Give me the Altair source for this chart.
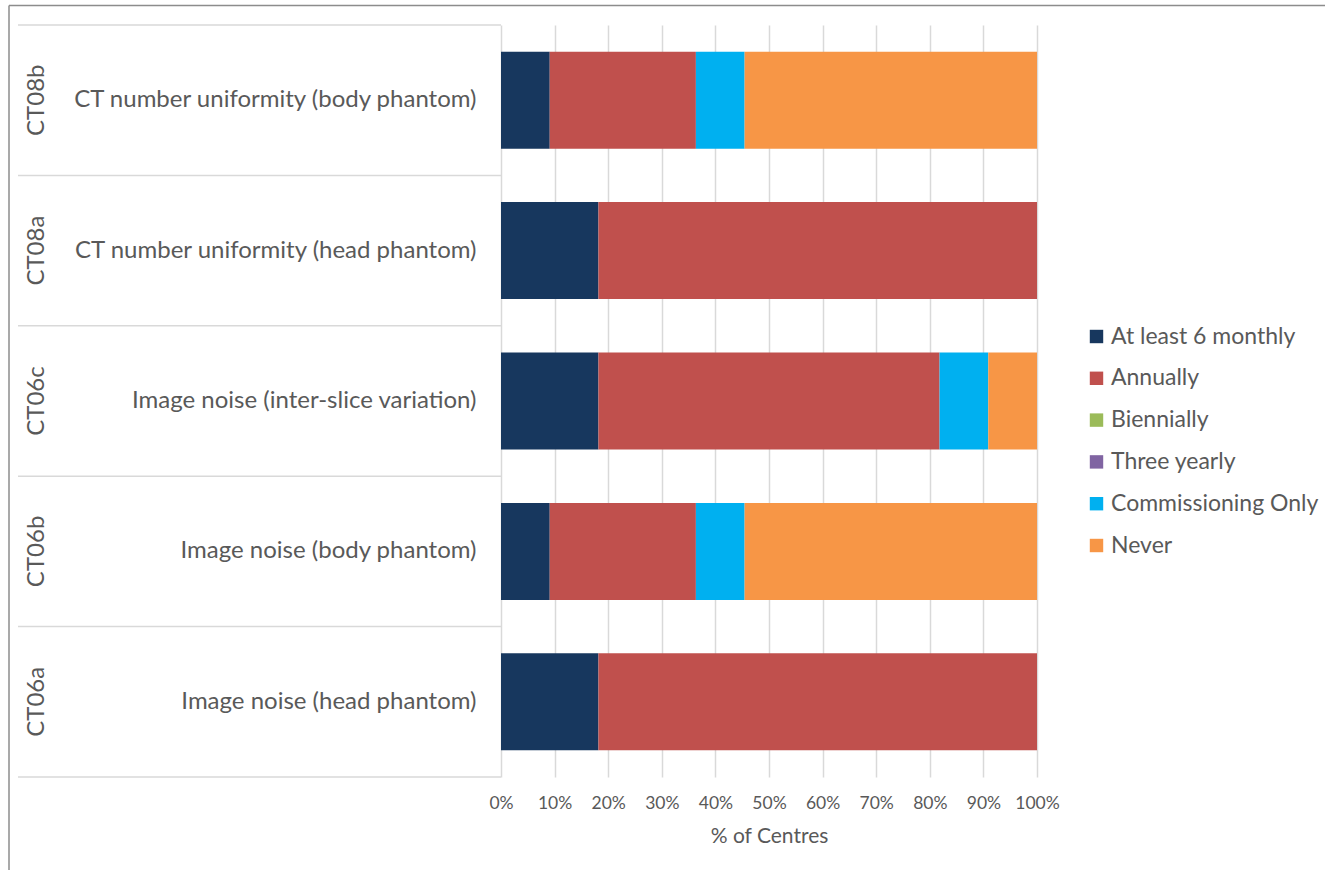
import altair as alt
import pandas as pd

codes = ["CT08b", "CT08a", "CT06c", "CT06b", "CT06a"]
descs = [
    "CT number uniformity (body phantom)",
    "CT number uniformity (head phantom)",
    "Image noise (inter-slice variation)",
    "Image noise (body phantom)",
    "Image noise (head phantom)",
]
categories = ["At least 6 monthly", "Annually", "Biennially", "Three yearly",
              "Commissioning Only", "Never"]
colors = ["#17375E", "#C0504D", "#9BBB59", "#8064A2", "#00B0F0", "#F79646"]

six_monthly = [9.09, 18.18, 18.18, 9.09, 18.18]
annually = [27.27, 81.82, 63.64, 27.27, 81.82]
biennially = [0, 0, 0, 0, 0]
three_yearly = [0, 0, 0, 0, 0]
commissioning = [9.09, 0, 9.09, 9.09, 0]
never = [54.55, 0, 9.09, 54.55, 0]

series = [six_monthly, annually, biennially, three_yearly, commissioning, never]
rows = []
for ci, (cat, vals) in enumerate(zip(categories, series)):
    for code, desc, v in zip(codes, descs, vals):
        rows.append({"code": code, "desc": desc, "freq": cat, "idx": ci, "value": v / 100.0})
df = pd.DataFrame(rows)
codes_df = pd.DataFrame({"code": codes, "desc": descs})
bounds_df = pd.DataFrame({"b": [0, 1, 2, 3, 4, 5]})
x_ticks = [i / 10 for i in range(11)]

TXT = "#595959"
GRID = "#D9D9D9"
band_scale = alt.Scale(paddingInner=0.355, paddingOuter=0.1775)

bars = alt.Chart(df).mark_bar().encode(
    x=alt.X("value:Q", stack="zero", scale=alt.Scale(domain=[0, 1], nice=False),
            axis=alt.Axis(values=x_ticks, format=".0%", title="% of Centres",
                          grid=True, gridColor=GRID, gridWidth=1.5, domain=False,
                          ticks=False, labelPadding=17, labelFontSize=17.5,
                          labelOverlap=False, labelFlush=False,
                          labelColor=TXT, titleColor=TXT, titleFontSize=21,
                          titleFontWeight="normal", titlePadding=14)),
    y=alt.Y("desc:N", sort=descs, scale=band_scale,
            axis=alt.Axis(title=None, domain=False, ticks=False, labelFontSize=24,
                          labelColor=TXT, labelPadding=25, labelLimit=600)),
    color=alt.Color("freq:N", scale=alt.Scale(domain=categories, range=colors),
                    legend=alt.Legend(title=None, orient="none", legendX=584,
                                      legendY=300, labelFontSize=23,
                                      labelColor=TXT, symbolType="square",
                                      symbolSize=180, symbolStrokeWidth=0,
                                      rowPadding=17.8, labelOffset=3,
                                      labelLimit=400)),
    order=alt.Order("idx:Q"),
)

code_text = alt.Chart(codes_df).mark_text(angle=270, fontSize=24, color=TXT,
                                          align="center", baseline="middle").encode(
    y=alt.Y("desc:N", sort=descs, scale=band_scale, axis=None),
    x=alt.value(-464),
    text="code:N",
)

separators = alt.Chart(bounds_df).mark_rule(color=GRID, strokeWidth=1.5).encode(
    y=alt.Y("b:Q", scale=alt.Scale(domain=[0, 5], nice=False), axis=None),
    x=alt.value(-483),
    x2=alt.value(0),
)

border_top = alt.Chart(pd.DataFrame({"k": [0]})).mark_rule(
    color="#8C8C8C", strokeWidth=1.5).encode(
    x=alt.value(-492), x2=alt.value(830), y=alt.value(-19.5))
border_left = alt.Chart(pd.DataFrame({"k": [0]})).mark_rule(
    color="#8C8C8C", strokeWidth=1.5).encode(
    x=alt.value(-492), y=alt.value(-19.5), y2=alt.value(860))

chart = alt.layer(
    separators, bars, code_text, border_top, border_left
).resolve_scale(y="independent").properties(
    width=536, height=752,
    autosize=alt.AutoSizeParams(type="none"),
    padding={"left": 501, "top": 25, "right": 288, "bottom": 93},
).configure(font="Lato").configure_view(stroke=None)

chart.save("out.html", embed_options={"renderer": "svg", "actions": False})
